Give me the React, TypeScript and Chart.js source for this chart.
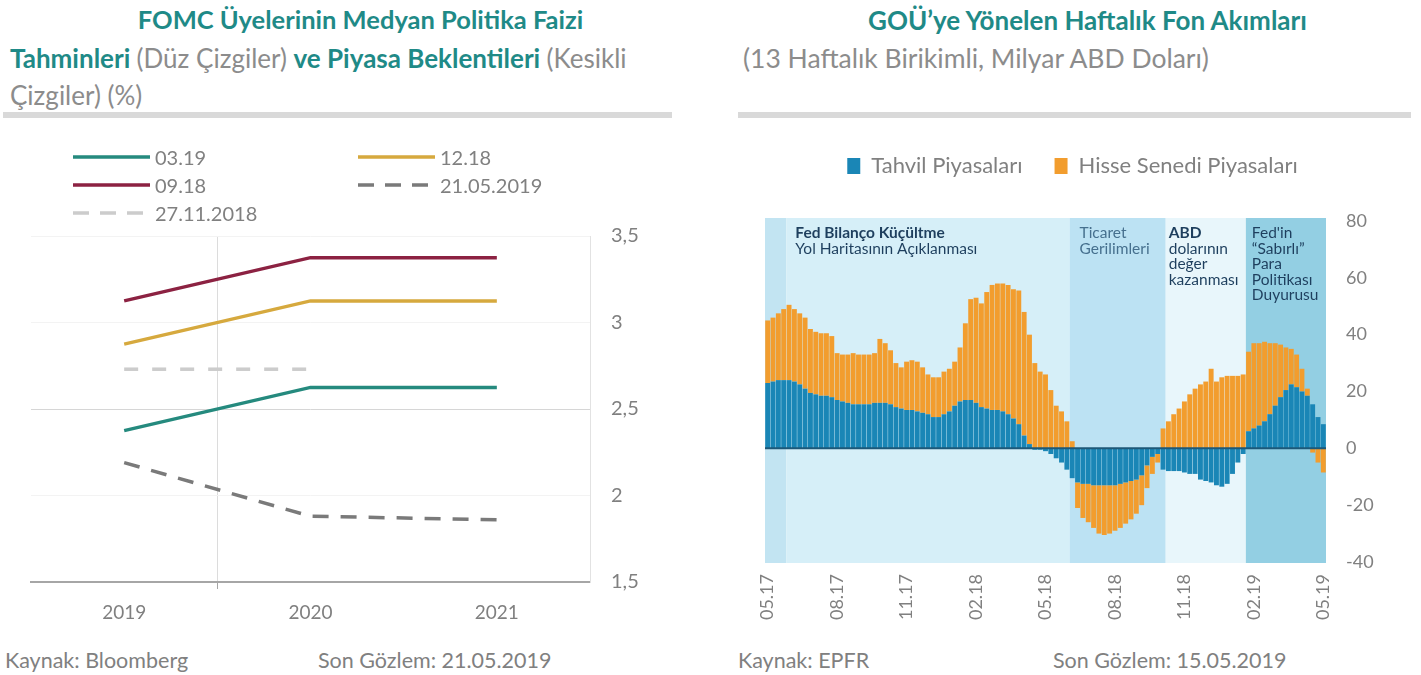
import React, { useEffect, useRef } from 'react';
import { Chart, registerables } from 'chart.js';

Chart.register(...registerables);

const FONT = 'Lato, "Open Sans", sans-serif';
const TEAL = '#1f8a87';
const GRAY_TEXT = '#808080';

// ---------------- Left chart data ----------------
const yearLabels = ['2019', '2020', '2021'];
const fomc0319 = [2.375, 2.625, 2.625];
const fomc1218 = [2.875, 3.125, 3.125];
const fomc0918 = [3.125, 3.375, 3.375];
const market210519 = [2.19, 1.88, 1.86];
const market271118 = [2.73, 2.73, null];

const leftSeries = [
  { label: '03.19', data: fomc0319, color: '#258a7e', dash: [] as number[] },
  { label: '12.18', data: fomc1218, color: '#d6a93e', dash: [] as number[] },
  { label: '09.18', data: fomc0918, color: '#8c2242', dash: [] as number[] },
  { label: '21.05.2019', data: market210519, color: '#7a7a7a', dash: [16, 12] },
  { label: '27.11.2018', data: market271118, color: '#cccccc', dash: [14, 14] },
];

// ---------------- Right chart data ----------------
const firstWeek = Date.UTC(2017, 4, 17); // 17.05.2017, weekly up to 15.05.2019
const weekCount = 105;
const tickEvery = 13;

const bondFlows = [
  23, 23.5, 24, 24, 24, 23.5, 22.5, 21, 19.5, 19,
  18.5, 18.5, 18, 17, 16.5, 16, 15.5, 15.5, 15.5, 15.5,
  16, 16, 16, 15.5, 14.5, 14, 13.5, 13.5, 13, 12.5,
  12, 11, 11, 12, 13, 15, 16.5, 17, 17, 16,
  14.5, 14, 13.5, 13.5, 13, 12, 10.5, 8.5, 4.5, 1.5,
  -0.5, -0.5, -1, -2, -3.5, -5, -7.5, -10.5, -12, -12.5,
  -12.5, -13, -13, -13, -13, -13, -12.5, -12, -11.5, -11,
  -9.5, -6, -3, -2, -7.5, -8, -8, -8, -8.5, -9,
  -9, -11, -11.5, -12, -13, -13.5, -12.5, -9, -5, -2,
  6, 7, 8, 9.5, 12, 15, 18, 20.5, 22.5, 21.5,
  20, 18.5, 15.5, 11, 8.5,
];

const equityFlows = [
  22, 22.5, 23.5, 25, 26.5, 25.5, 25, 25, 22.5, 22,
  22, 22, 21.5, 16.5, 16.5, 17, 18, 17.5, 17.5, 17.5,
  17.5, 22.5, 21, 19, 15.5, 14.5, 17, 17.5, 17.5, 16,
  14, 14, 14, 15, 15, 15.5, 19, 27, 35.5, 37,
  36.5, 41, 44, 44.5, 45, 45.5, 45.5, 47, 43.5, 38.5,
  30, 27, 26, 20.5, 15, 13, 9.5, 2.5, -9, -12,
  -13.5, -15, -17, -17.5, -17, -16, -15.5, -14.5, -13.5, -12,
  -10.5, -8, -6, -3, 7, 9.5, 12, 14, 16.5, 19,
  21, 22.5, 23.5, 28, 23.5, 25, 25.5, 25.5, 25.5, 26,
  28, 30, 29, 28, 25, 22, 18.5, 15, 12.5, 11.5,
  8, 2.5, -1.5, -5, -8.5,
];

const pad2 = (n: number) => (n < 10 ? '0' : '') + n;
const weekLabels = Array.from({ length: weekCount }, (_, i) => {
  const d = new Date(firstWeek + i * 7 * 86400000);
  return `${pad2(d.getUTCDate())}.${pad2(d.getUTCMonth() + 1)}.${d.getUTCFullYear()}`;
});
const tickLabel = (i: number) => {
  const p = weekLabels[i].split('.');
  return `${p[1]}.${p[2].slice(2)}`;
};

// shaded periods (category index ranges) with their notes
const periods = [
  { from: 0, to: 3, color: '#c2e4f2', dx: 0, textColor: '#1e3f5e', lines: [] as { t: string; b: boolean }[] },
  {
    from: 4, to: 56, color: '#d6eff8', dx: 9, textColor: '#1e3f5e',
    lines: [{ t: 'Fed Bilanço Küçültme', b: true }, { t: 'Yol Haritasının Açıklanması', b: false }],
  },
  {
    from: 57, to: 74, color: '#bce2f3', dx: 10, textColor: '#46708e',
    lines: [{ t: 'Ticaret', b: false }, { t: 'Gerilimleri', b: false }],
  },
  {
    from: 75, to: 89, color: '#e8f6fb', dx: 3, textColor: '#1e3f5e',
    lines: [{ t: 'ABD', b: true }, { t: 'dolarının', b: false }, { t: 'değer', b: false }, { t: 'kazanması', b: false }],
  },
  {
    from: 90, to: 104, color: '#93cfe3', dx: 6, textColor: '#1e3f5e',
    lines: [
      { t: "Fed'in", b: false }, { t: '“Sabırlı”', b: false }, { t: 'Para', b: false },
      { t: 'Politikası', b: false }, { t: 'Duyurusu', b: false },
    ],
  },
];

const periodPlugin = {
  id: 'periods',
  beforeDatasetsDraw(chart: any) {
    const { ctx, chartArea, scales } = chart;
    const x = scales.x;
    const half = (x.getPixelForValue(1) - x.getPixelForValue(0)) / 2;
    ctx.save();
    periods.forEach((p) => {
      const x1 = x.getPixelForValue(p.from) - half;
      const x2 = x.getPixelForValue(p.to) + half;
      ctx.fillStyle = p.color;
      ctx.fillRect(x1, chartArea.top - 3, x2 - x1, chartArea.bottom - chartArea.top + 4);
    });
    periods.forEach((p) => {
      const x1 = x.getPixelForValue(p.from) - half;
      ctx.fillStyle = p.textColor;
      ctx.textBaseline = 'middle';
      ctx.textAlign = 'left';
      p.lines.forEach((ln, k) => {
        ctx.font = `${ln.b ? 'bold ' : ''}15.5px ${FONT}`;
        ctx.fillText(ln.t, x1 + p.dx, chartArea.top + 12 + k * 15.5);
      });
    });
    ctx.restore();
  },
};

const zeroLinePlugin = {
  id: 'zeroLine',
  afterDatasetsDraw(chart: any) {
    const { ctx, chartArea, scales } = chart;
    const y0 = scales.y.getPixelForValue(0);
    ctx.save();
    ctx.strokeStyle = '#1d5878';
    ctx.lineWidth = 2;
    ctx.beginPath();
    ctx.moveTo(chartArea.left, y0);
    ctx.lineTo(chartArea.right, y0);
    ctx.stroke();
    ctx.restore();
  },
};

const legendSpacer = {
  id: 'legendSpacer',
  beforeLayout(chart: any) {
    const lg = chart.legend;
    if (lg && !lg.__spaced) {
      const fit = lg.fit.bind(lg);
      lg.fit = function () {
        fit();
        this.height = 98;
      };
      lg.__spaced = true;
    }
  },
};

function LeftChart() {
  const ref = useRef<HTMLCanvasElement | null>(null);
  useEffect(() => {
    if (!ref.current) return;
    const chart = new Chart(ref.current, {
      type: 'line',
      data: {
        labels: yearLabels,
        datasets: leftSeries.map((s) => ({
          label: s.label,
          data: s.data,
          borderColor: s.color,
          backgroundColor: s.color,
          borderWidth: 3.5,
          borderDash: s.dash,
          pointRadius: 0,
          tension: 0,
          fill: false,
        })),
      },
      options: {
        animation: false,
        responsive: false,
        layout: { padding: { left: 31, top: 36, right: 0, bottom: 0 } },
        plugins: { legend: { display: false }, tooltip: { enabled: false } },
        scales: {
          x: {
            type: 'category',
            offset: true,
            grid: {
              offset: true,
              drawTicks: true,
              tickLength: 7,
              color: (c: any) => (c.index === 1 || c.index === 3 ? '#dcdcdc' : 'rgba(0,0,0,0)'),
              tickColor: (c: any) => (c.index === 1 || c.index === 3 ? '#a6a6a6' : 'rgba(0,0,0,0)'),
            },
            border: { display: true, color: '#a6a6a6', width: 2 },
            ticks: { color: GRAY_TEXT, font: { family: FONT, size: 19 }, padding: 12 },
            afterFit: (s: any) => {
              s.height = 40;
            },
          },
          y: {
            position: 'right',
            min: 1.5,
            max: 3.5,
            ticks: {
              stepSize: 0.5,
              color: GRAY_TEXT,
              font: { family: FONT, size: 20 },
              padding: 21,
              callback: (v: any) => String(v).replace('.', ','),
            },
            grid: {
              drawTicks: false,
              color: (c: any) => (c.tick && c.tick.value === 2.5 ? '#d6d6d6' : '#f3f3f3'),
            },
            border: { display: true, color: '#e2e2e2', width: 1 },
            afterFit: (s: any) => {
              s.width = 90;
            },
          },
        },
      } as any,
    });
    return () => chart.destroy();
  }, []);
  return <canvas ref={ref} width={680} height={422} style={{ position: 'absolute', left: 0, top: 200 }} />;
}

function RightChart() {
  const ref = useRef<HTMLCanvasElement | null>(null);
  useEffect(() => {
    if (!ref.current) return;
    const chart = new Chart(ref.current, {
      type: 'bar',
      data: {
        labels: weekLabels,
        datasets: [
          {
            label: 'Tahvil Piyasaları',
            data: bondFlows,
            backgroundColor: '#1a86b6',
            borderWidth: 0,
            barPercentage: 0.92,
            categoryPercentage: 1,
          },
          {
            label: 'Hisse Senedi Piyasaları',
            data: equityFlows,
            backgroundColor: '#f29d2e',
            borderWidth: 0,
            barPercentage: 0.92,
            categoryPercentage: 1,
          },
        ],
      },
      options: {
        animation: false,
        responsive: false,
        layout: { padding: { left: 40, right: 0, top: 0, bottom: 0 } },
        plugins: {
          legend: {
            position: 'top',
            labels: {
              boxWidth: 13,
              boxHeight: 16,
              padding: 32,
              color: GRAY_TEXT,
              font: { family: FONT, size: 22 },
            },
          },
          tooltip: { enabled: false },
        },
        scales: {
          x: {
            stacked: true,
            grid: { display: false },
            border: { display: false },
            ticks: {
              autoSkip: false,
              minRotation: 90,
              maxRotation: 90,
              padding: 4,
              color: GRAY_TEXT,
              font: { family: FONT, size: 18 },
              callback: (_v: any, i: number) => (i % tickEvery === 0 ? tickLabel(i) : ''),
            },
            afterFit: (s: any) => {
              s.height = 70;
            },
          },
          y: {
            stacked: true,
            position: 'right',
            min: -40,
            max: 80,
            ticks: { stepSize: 20, color: GRAY_TEXT, font: { family: FONT, size: 18 }, padding: 12 },
            grid: { display: false },
            border: { display: false },
            afterFit: (s: any) => {
              s.width = 54;
            },
          },
        },
      } as any,
      plugins: [periodPlugin, zeroLinePlugin, legendSpacer],
    });
    return () => chart.destroy();
  }, []);
  return <canvas ref={ref} width={655} height={509} style={{ position: 'absolute', left: 725, top: 123 }} />;
}

function LegendLine({ color, dash }: { color: string; dash: number[] }) {
  return (
    <svg width={77} height={6} style={{ display: 'block' }}>
      <line
        x1={0}
        y1={3}
        x2={77}
        y2={3}
        stroke={color}
        strokeWidth={3.5}
        strokeDasharray={dash.length ? '16 11' : undefined}
      />
    </svg>
  );
}

const abs = (left: number, top: number, extra: React.CSSProperties = {}): React.CSSProperties => ({
  position: 'absolute',
  left,
  top,
  whiteSpace: 'nowrap',
  fontFamily: FONT,
  lineHeight: 1,
  ...extra,
});

export default function App() {
  const bold: React.CSSProperties = { color: TEAL, fontWeight: 700 };
  const light: React.CSSProperties = { color: '#8c8c8c', fontWeight: 400 };
  return (
    <div style={{ position: 'absolute', left: 0, top: 0, width: 1421, height: 675, background: '#fff', overflow: 'hidden' }}>
      {/* left titles */}
      <div style={abs(0, 7, { width: 721, textAlign: 'center', fontSize: 25.5, ...bold })}>
        FOMC Üyelerinin Medyan Politika Faizi
      </div>
      <div style={abs(10, 45, { fontSize: 26 })}>
        <span style={bold}>Tahminleri </span>
        <span style={light}>(Düz Çizgiler) </span>
        <span style={bold}>ve Piyasa Beklentileri </span>
        <span style={light}>(Kesikli</span>
      </div>
      <div style={abs(10, 82, { fontSize: 26, ...light })}>Çizgiler) (%)</div>
      <div style={{ position: 'absolute', left: 3, top: 112, width: 669, height: 6, background: '#d9d9d9' }} />

      {/* right titles */}
      <div style={abs(754, 7, { width: 667, textAlign: 'center', fontSize: 26, ...bold })}>
        GOÜ’ye Yönelen Haftalık Fon Akımları
      </div>
      <div style={abs(743, 45, { fontSize: 26.5, ...light })}>(13 Haftalık Birikimli, Milyar ABD Doları)</div>
      <div style={{ position: 'absolute', left: 738, top: 112, width: 673, height: 6, background: '#d9d9d9' }} />

      <LeftChart />
      <RightChart />

      {/* left legend */}
      <div
        style={{
          position: 'absolute',
          left: 73,
          top: 143,
          display: 'grid',
          gridTemplateColumns: '285px 220px',
          gridAutoRows: '28px',
          fontFamily: FONT,
          fontSize: 20,
          color: GRAY_TEXT,
        }}
      >
        {leftSeries.map((s) => (
          <div key={s.label} style={{ display: 'flex', alignItems: 'center', whiteSpace: 'nowrap' }}>
            <LegendLine color={s.color} dash={s.dash} />
            <span style={{ marginLeft: 5 }}>{s.label}</span>
          </div>
        ))}
      </div>

      {/* footers */}
      <div style={abs(5, 650, { fontSize: 21.5, color: GRAY_TEXT })}>Kaynak: Bloomberg</div>
      <div style={abs(318, 650, { fontSize: 21.5, color: GRAY_TEXT })}>Son Gözlem: 21.05.2019</div>
      <div style={abs(738, 650, { fontSize: 21.5, color: GRAY_TEXT })}>Kaynak: EPFR</div>
      <div style={abs(1053, 650, { fontSize: 21.5, color: GRAY_TEXT })}>Son Gözlem: 15.05.2019</div>
    </div>
  );
}
